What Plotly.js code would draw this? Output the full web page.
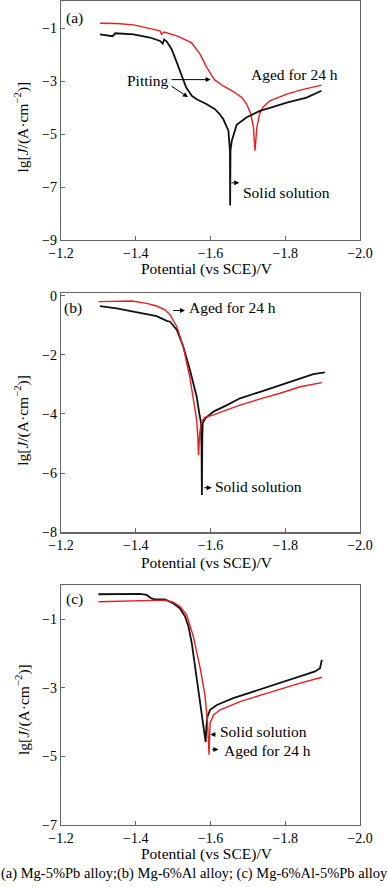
<!DOCTYPE html>
<html>
<head>
<meta charset="utf-8">
<script src="https://cdn.plot.ly/plotly-3.0.1.min.js"></script>
<style>
html,body{margin:0;padding:0;background:#fff;}
#chart{width:388px;height:887px;}
</style>
</head>
<body>
<div id="chart"></div>
<script>
// ---------- Data (potential V vs SCE, lg J) ----------
// Panel (a) Mg-5%Pb
const aSolidV = [-1.304,-1.331,-1.338,-1.345,-1.394,-1.438,-1.465,-1.472,-1.476,-1.483,-1.496,-1.510,-1.523,-1.535,-1.550,-1.563,-1.590,-1.612,-1.625,-1.634,-1.648,-1.652,-1.6525,-1.6535,-1.657,-1.670,-1.696,-1.732,-1.768,-1.804,-1.857,-1.897];
const aSolidJ = [-1.23,-1.29,-1.30,-1.19,-1.23,-1.35,-1.48,-1.58,-1.42,-1.50,-1.79,-2.30,-2.80,-3.24,-3.55,-3.68,-3.87,-4.06,-4.25,-4.43,-4.87,-5.63,-7.70,-5.60,-5.25,-4.65,-4.37,-4.12,-3.97,-3.81,-3.62,-3.36];
const aAgedV = [-1.304,-1.349,-1.394,-1.429,-1.465,-1.469,-1.476,-1.510,-1.536,-1.549,-1.572,-1.590,-1.604,-1.612,-1.634,-1.661,-1.684,-1.697,-1.708,-1.715,-1.719,-1.724,-1.731,-1.741,-1.759,-1.804,-1.840,-1.897];
const aAgedJ = [-0.81,-0.82,-0.87,-0.97,-1.10,-1.23,-1.14,-1.29,-1.45,-1.54,-1.98,-2.48,-2.80,-2.96,-3.18,-3.39,-3.62,-3.87,-4.25,-4.75,-5.63,-4.75,-4.25,-3.97,-3.74,-3.49,-3.34,-3.15];

// Panel (b) Mg-6%Al
const bSolidV = [-1.304,-1.349,-1.394,-1.438,-1.456,-1.483,-1.492,-1.510,-1.527,-1.545,-1.563,-1.570,-1.574,-1.576,-1.577,-1.578,-1.579,-1.586,-1.608,-1.644,-1.679,-1.733,-1.786,-1.840,-1.875,-1.906];
const bSolidJ = [-0.35,-0.43,-0.54,-0.66,-0.69,-0.85,-0.88,-1.16,-1.72,-2.51,-3.41,-3.98,-4.25,-5.10,-6.74,-4.88,-4.32,-4.15,-3.92,-3.70,-3.47,-3.25,-3.02,-2.79,-2.65,-2.59];
const bAgedV = [-1.300,-1.385,-1.390,-1.429,-1.456,-1.478,-1.492,-1.510,-1.527,-1.545,-1.557,-1.563,-1.566,-1.568,-1.571,-1.576,-1.585,-1.608,-1.644,-1.679,-1.733,-1.786,-1.840,-1.898];
const bAgedJ = [-0.20,-0.20,-0.18,-0.26,-0.35,-0.48,-0.65,-1.05,-1.72,-2.78,-3.64,-4.20,-4.77,-5.39,-4.65,-4.26,-4.11,-4.03,-3.86,-3.70,-3.49,-3.30,-3.08,-2.94];

// Panel (c) Mg-6%Al-5%Pb
const cSolidV = [-1.300,-1.411,-1.429,-1.442,-1.451,-1.478,-1.500,-1.518,-1.532,-1.541,-1.550,-1.559,-1.567,-1.576,-1.582,-1.587,-1.589,-1.592,-1.599,-1.617,-1.661,-1.715,-1.768,-1.822,-1.880,-1.893,-1.898];
const cSolidJ = [-0.27,-0.26,-0.29,-0.39,-0.42,-0.42,-0.53,-0.68,-0.92,-1.21,-1.70,-2.38,-3.06,-3.64,-4.13,-4.58,-4.13,-3.83,-3.64,-3.50,-3.30,-3.11,-2.91,-2.72,-2.52,-2.43,-2.18];
const cAgedV = [-1.300,-1.400,-1.478,-1.500,-1.518,-1.536,-1.554,-1.572,-1.585,-1.592,-1.596,-1.599,-1.608,-1.626,-1.679,-1.750,-1.840,-1.898];
const cAgedJ = [-0.49,-0.47,-0.44,-0.50,-0.62,-0.87,-1.50,-2.40,-3.20,-4.00,-4.95,-4.03,-3.79,-3.64,-3.40,-3.16,-2.86,-2.69];

const xTicks = [-1.2,-1.4,-1.6,-1.8,-2.0];
const aYTicks = [-9,-7,-5,-3,-1];
const bYTicks = [-8,-6,-4,-2,0];
const cYTicks = [-7,-5,-3,-1];
const caption = "(a) Mg-5%Pb alloy;(b) Mg-6%Al alloy; (c) Mg-6%Al-5%Pb alloy";

// ---------- Chart ----------
const FONT = 'Liberation Serif, serif';
const RED = '#ee1c1c', BLACK = '#111111', FRAME = '#666666';

function tr(x, y, color, w, xa, ya){
  return {x:x, y:y, type:'scatter', mode:'lines', line:{color:color, width:w},
          xaxis:xa, yaxis:ya, showlegend:false, hoverinfo:'skip'};
}
const data = [
  tr(aAgedV, aAgedJ, RED, 1.4, 'x', 'y'),
  tr(aSolidV, aSolidJ, BLACK, 1.8, 'x', 'y'),
  tr(bSolidV, bSolidJ, BLACK, 1.8, 'x2', 'y2'),
  tr(bAgedV, bAgedJ, RED, 1.4, 'x2', 'y2'),
  tr(cSolidV, cSolidJ, BLACK, 1.8, 'x3', 'y3'),
  tr(cAgedV, cAgedJ, RED, 1.4, 'x3', 'y3')
];

const H = 887, W = 388;
const xd = [61/W, 360/W];
function xa(anchor){
  return {domain:xd, anchor:anchor, range:[-1.2,-2.0], tickvals:xTicks, tickformat:'.1f',
    ticks:'inside', ticklen:4, tickcolor:FRAME, showline:true, linecolor:FRAME, linewidth:1.2,
    mirror:true, showgrid:false, zeroline:false, tickfont:{family:FONT,size:14,color:'#000'}};
}
function ya(anchor, top, bot, range, tv){
  return {domain:[1-bot/H, 1-top/H], anchor:anchor, range:range, tickvals:tv,
    ticks:'inside', ticklen:4, tickcolor:FRAME, showline:true, linecolor:FRAME, linewidth:1.2,
    mirror:true, showgrid:false, zeroline:false, tickfont:{family:FONT,size:14,color:'#000'}};
}

const tf = {family:FONT, size:15.5, color:'#000'};
function txt(xr, yr, x, y, text, xanchor){
  return {xref:xr, yref:yr, x:x, y:y, text:text, showarrow:false, font:tf,
          xanchor:xanchor||'center', yanchor:'middle'};
}
function arr(xr, yr, x0, y0, x1, y1){
  return {xref:xr, yref:yr, axref:xr, ayref:yr, x:x1, y:y1, ax:x0, ay:y0, text:'',
          showarrow:true, arrowhead:2, arrowsize:1, arrowwidth:1, arrowcolor:'#000'};
}
const ytitle = 'lg[<i>J</i>/(A·cm<sup>−2</sup>)]';
const xtitle = 'Potential (vs SCE)/V';
function paperTxt(x, y, text, angle, size){
  return {xref:'paper', yref:'paper', x:x, y:y, text:text, showarrow:false,
    textangle:angle||0, font:{family:FONT, size:size||15.5, color:'#000'},
    xanchor:'center', yanchor:'middle'};
}

const annotations = [
  // panel (a)
  txt('x','y',-1.235,-0.6,'(a)'),
  txt('x','y',-1.433,-2.96,'Pitting'),
  arr('x','y',-1.4916,-2.94,-1.6005,-2.94),
  arr('x','y',-1.4916,-3.15,-1.5398,-3.60),
  txt('x','y',-1.8234,-2.74,'Aged for 24 h'),
  txt('x','y',-1.6808,-7.215,'Solid solution','left'),
  arr('x','y',-1.652,-6.84,-1.677,-6.84),
  // panel (b)
  txt('x2','y2',-1.232,-0.425,'(b)'),
  txt('x2','y2',-1.5318-0.005,-0.392,'Aged for 24 h','left'),
  arr('x2','y2',-1.4962,-0.502,-1.5318,-0.502),
  txt('x2','y2',-1.6067,-6.44,'Solid solution','left'),
  arr('x2','y2',-1.579,-6.494,-1.603,-6.494),
  // panel (c)
  txt('x3','y3',-1.235,-0.417,'(c)'),
  txt('x3','y3',-1.6209,-4.282,'Solid solution','left'),
  arr('x3','y3',-1.6174,-4.358,-1.5995,-4.358),
  txt('x3','y3',-1.630,-4.815,'Aged for 24 h','left'),
  arr('x3','y3',-1.6005,-4.795,-1.621,-4.795),
  // axis titles
  paperTxt(207/W, 1-269/H, xtitle),
  paperTxt(207/W, 1-562.5/H, xtitle),
  paperTxt(207/W, 1-854/H, xtitle),
  paperTxt(22/W, 1-127.5/H, ytitle, -90),
  paperTxt(22/W, 1-420.8/H, ytitle, -90),
  paperTxt(22/W, 1-710/H, ytitle, -90),
  // caption
  paperTxt(0.5, 1-873/H, caption, 0, 14.5)
];

const layout = {
  width:W, height:H, margin:{l:0,r:0,t:0,b:0},
  paper_bgcolor:'#fff', plot_bgcolor:'#fff', showlegend:false,
  font:{family:FONT, color:'#000'},
  xaxis: xa('y'), yaxis: ya('x', 1, 240, [-9, 0.03], aYTicks),
  xaxis2: xa('y2'), yaxis2: ya('x2', 293.3, 532.3, [-8, 0.08], bYTicks),
  xaxis3: xa('y3'), yaxis3: ya('x3', 585, 825, [-7, 0], cYTicks),
  annotations: annotations
};

Plotly.newPlot('chart', data, layout, {staticPlot:true, displayModeBar:false});
</script>
</body>
</html>
